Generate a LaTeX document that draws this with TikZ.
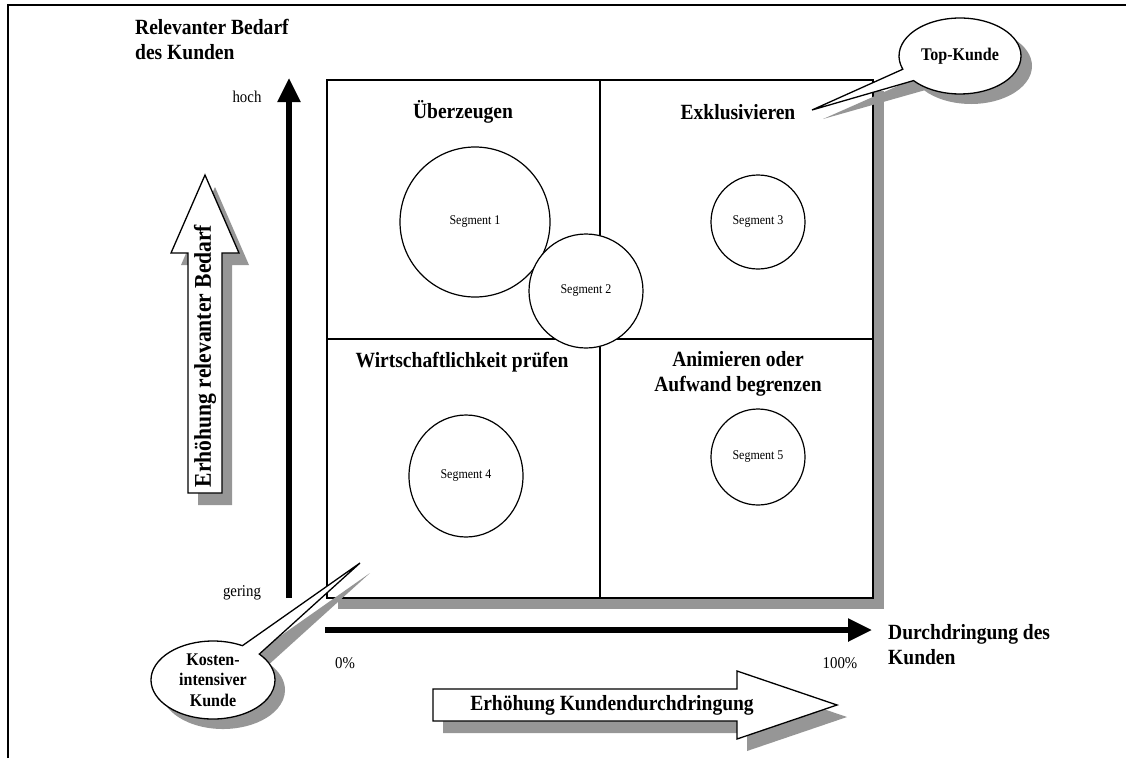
\documentclass[tikz,border=0pt]{standalone}
\usepackage{fontspec}
% slightly condensed Times-like face
\setmainfont{Liberation Serif}[FakeStretch=0.9]
\usetikzlibrary{arrows.meta,shapes.geometric,shapes.callouts}
\definecolor{shadowgray}{gray}{0.59}

\begin{document}
\begin{tikzpicture}[x=1pt,y=-1pt,
  boldlbl/.style={font=\bfseries\fontsize{21.7}{25}\selectfont, inner sep=0},
  quadtitle/.style={boldlbl, align=center},
  scalelbl/.style={font=\fontsize{16.5}{18}\selectfont, inner sep=0},
  segment/.style={ellipse, draw, line width=1.2pt, fill=white,
    font=\fontsize{13.3}{14}\selectfont, inner sep=0},
  axis/.style={line width=5.5pt, -{Triangle[length=24pt,width=22pt]}},
  hollow/.style={draw, line width=1.3pt, fill=white, line join=miter},
  bubble/.style={ellipse callout, draw, line width=1.3pt, fill=white,
    callout pointer arc=20, inner sep=0, align=center,
    font=\bfseries\fontsize{17.8}{20.5}\selectfont},
  bubbleshade/.style={ellipse callout, fill=shadowgray, draw=none,
    callout pointer arc=20, inner sep=0}
]
\useasboundingbox (0,0) rectangle (1126,758);

% outer frame (open to the right and bottom)
\draw[line width=2.5pt] (8,758) -- (8,5) -- (1126,5);

% axis caption
\node[boldlbl, align=left, anchor=north west] (ycap) at (135,19)
  {Relevanter Bedarf\\des Kunden};

% portfolio box with drop shadow
\fill[shadowgray] (338,91) rectangle (884,609);
\node[draw, line width=1.5pt, fill=white, minimum width=546pt,
  minimum height=518pt, inner sep=0] (box) at (600,339) {};
\draw[line width=1.2pt] (box.north) -- (box.south);
\draw[line width=1.2pt] (box.west) -- (box.east);

% quadrant titles
\node[quadtitle] (q1) at (463,112) {Überzeugen};
\node[quadtitle] (q2) at (738,112) {Exklusivieren};
\node[quadtitle] (q3) at (462,362) {Wirtschaftlichkeit prüfen};
\node[quadtitle] (q4) at (738,374) {Animieren oder\\Aufwand begrenzen};

% customer segments
\node[segment, minimum width=150pt, minimum height=150pt] (s1) at (475,222) {Segment 1};
\node[segment, minimum width=114pt, minimum height=114pt] (s2) at (586,291) {Segment 2};
\node[segment, minimum width=94pt, minimum height=94pt] (s3) at (758,222) {Segment 3};
\node[segment, minimum width=114pt, minimum height=122pt] (s4) at (466,476) {Segment 4};
\node[segment, minimum width=94pt, minimum height=96pt] (s5) at (758,457) {Segment 5};

% axes
\coordinate (ybot) at (289,598);
\coordinate (ytop) at (289,78);
\draw[axis] (ybot) -- (ytop);
\coordinate (xleft) at (325,630);
\coordinate (xright) at (872,630);
\draw[axis] (xleft) -- (xright);

\node[scalelbl] (hoch) at (247,97) {hoch};
\node[scalelbl] (gering) at (242,593) {gering};
\node[scalelbl] (p0) at (345,663) {0\%};
\node[scalelbl] (p100) at (840,663) {100\%};
\node[boldlbl, align=left, anchor=west] (xcap) at (888,645)
  {Durchdringung des\\Kunden};

% hollow arrow: rising demand
\fill[shadowgray, shift={(10,12)}] (188,493) -- (188,253) -- (171,253) -- (205,175)
  -- (239,253) -- (222,253) -- (222,493) -- cycle;
\draw[hollow] (188,493) -- (188,253) -- (171,253) -- (205,175)
  -- (239,253) -- (222,253) -- (222,493) -- cycle;
\node[font=\bfseries\fontsize{24}{26}\selectfont, rotate=90, inner sep=0]
  (vtxt) at (205,356) {Erhöhung relevanter Bedarf};

% hollow arrow: rising penetration
\fill[shadowgray, shift={(10,12)}] (433,689) -- (737,689) -- (737,671) -- (837,705)
  -- (737,739) -- (737,721) -- (433,721) -- cycle;
\draw[hollow] (433,689) -- (737,689) -- (737,671) -- (837,705)
  -- (737,739) -- (737,721) -- (433,721) -- cycle;
\node[boldlbl] (htxt) at (612,705) {Erhöhung Kundendurchdringung};

% callouts
\node[bubbleshade, minimum width=122pt, minimum height=76pt,
  callout absolute pointer={(823,119)}] (topsh) at (971,66) {};
\node[bubble, minimum width=122pt, minimum height=76pt,
  callout absolute pointer={(812,110)}] (top) at (960,56) {Top-Kunde};

\node[bubbleshade, minimum width=124pt, minimum height=78pt,
  callout absolute pointer={(370,573)}] (costsh) at (223,690) {};
\node[bubble, minimum width=124pt, minimum height=78pt,
  callout absolute pointer={(360,563)}] (cost) at (213,680)
  {Kosten-\\intensiver\\Kunde};
\end{tikzpicture}
\end{document}
